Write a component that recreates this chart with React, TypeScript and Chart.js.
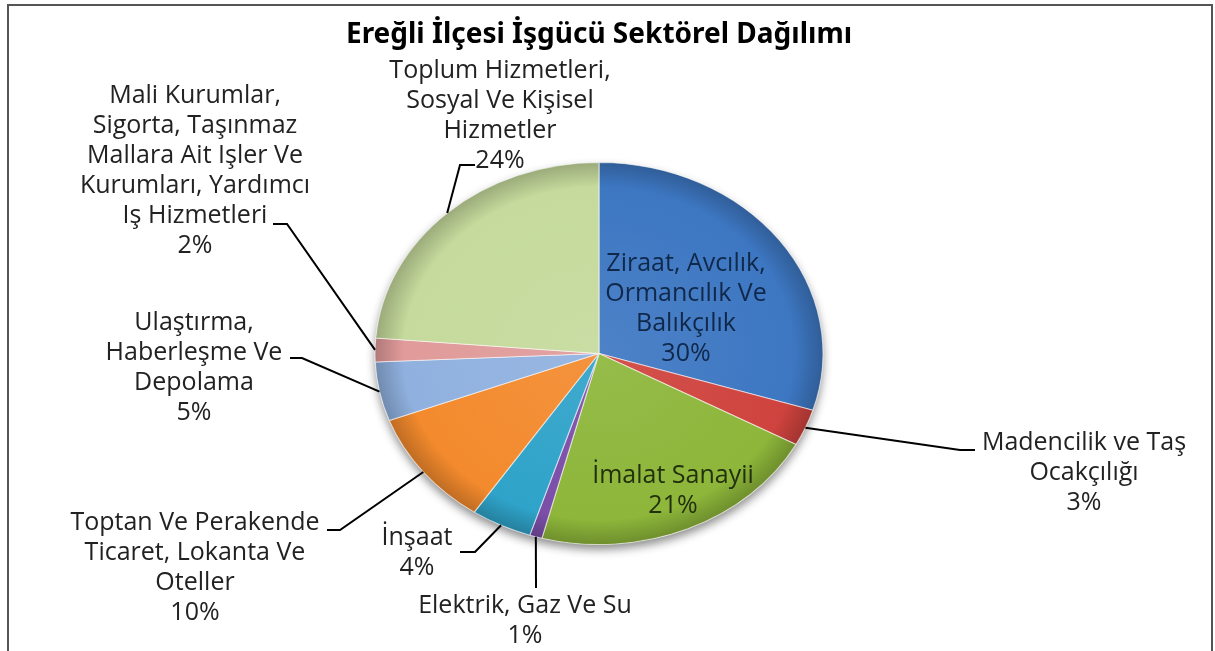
import { useEffect, useRef } from "react";
import { Chart, registerables } from "chart.js";

Chart.register(...registerables);

// ---------- data ----------
const chartTitle = "Ereğli İlçesi İşgücü Sektörel Dağılımı";
const categories: string[][] = [
  ["Ziraat, Avcılık,", "Ormancılık Ve", "Balıkçılık"],
  ["Madencilik ve Taş", "Ocakçılığı"],
  ["İmalat Sanayii"],
  ["Elektrik, Gaz Ve Su"],
  ["İnşaat"],
  ["Toptan Ve Perakende", "Ticaret, Lokanta Ve", "Oteller"],
  ["Ulaştırma,", "Haberleşme Ve", "Depolama"],
  ["Mali Kurumlar,", "Sigorta, Taşınmaz", "Mallara Ait Işler Ve", "Kurumları, Yardımcı", "Iş Hizmetleri"],
  ["Toplum Hizmetleri,", "Sosyal Ve Kişisel", "Hizmetler"],
];
const values = [29.8, 3.1, 21.2, 0.9, 4.4, 9.9, 5.0, 2.0, 23.7];
const sliceColors = ["#3d77c2", "#cf433e", "#8db63a", "#7b4ea8", "#2fa3c9", "#f38a2d", "#90b1df", "#e09b9a", "#c5da9c"];

// ---------- layout / style ----------
const SEMI_X = 224; // horizontal semi-axis of the (stretched) pie
const LABEL_FONT = "25px 'Open Sans'";
const LINE_H = 30;
type Lay = { x: number; y: number; color: string; leader: number[][] };
const labelLayout: Lay[] = [
  { x: 686, y: 262, color: "#10284a", leader: [] },
  { x: 1084, y: 441, color: "#222", leader: [[975, 450], [960, 450]] },
  { x: 673, y: 474, color: "#22300c", leader: [] },
  { x: 525, y: 604, color: "#222", leader: [[536, 588]] },
  { x: 417, y: 536, color: "#222", leader: [[460, 552], [475, 552]] },
  { x: 195, y: 521, color: "#222", leader: [[327, 530], [340, 530]] },
  { x: 194, y: 321, color: "#222", leader: [[290, 358], [302, 358]] },
  { x: 195, y: 94, color: "#222", leader: [[273, 224], [287, 224]] },
  { x: 500, y: 69, color: "#222", leader: [[475, 165], [460, 165]] },
];

function mix(hex: string, target: number, amt: number) {
  const n = parseInt(hex.slice(1), 16);
  const ch = [(n >> 16) & 255, (n >> 8) & 255, n & 255].map((c) => Math.round(c + (target - c) * amt));
  return `rgb(${ch[0]},${ch[1]},${ch[2]})`;
}

const stretchPlugin = {
  id: "stretchPie",
  beforeDatasetsDraw(chart: any) {
    const arc = chart.getDatasetMeta(0).data[0];
    if (!arc) return;
    const { x, y, outerRadius } = arc;
    const sx = SEMI_X / outerRadius;
    const ctx = chart.ctx;
    // soft shadow under the pie
    ctx.save();
    ctx.beginPath();
    ctx.ellipse(x, y, SEMI_X, outerRadius, 0, 0, Math.PI * 2);
    ctx.shadowColor = "rgba(0,0,0,0.45)";
    ctx.shadowBlur = 10;
    ctx.shadowOffsetY = 5;
    ctx.fillStyle = "#ffffff";
    ctx.fill();
    ctx.restore();
    ctx.save();
    ctx.translate(x, y);
    ctx.scale(sx, 1);
    ctx.translate(-x, -y);
  },
  afterDatasetsDraw(chart: any) {
    const arc = chart.getDatasetMeta(0).data[0];
    if (!arc) return;
    chart.ctx.restore();
  },
  afterDraw(chart: any) {
    const meta = chart.getDatasetMeta(0);
    const ctx = chart.ctx;
    const total = values.reduce((a, b) => a + b, 0);
    meta.data.forEach((arc: any, i: number) => {
      const lay = labelLayout[i];
      const mid = (arc.startAngle + arc.endAngle) / 2;
      const b = arc.outerRadius;
      const ex = arc.x + SEMI_X * Math.cos(mid);
      const ey = arc.y + b * Math.sin(mid);
      if (lay.leader.length) {
        ctx.save();
        ctx.strokeStyle = "#000";
        ctx.lineWidth = 2;
        ctx.beginPath();
        ctx.moveTo(lay.leader[0][0], lay.leader[0][1]);
        for (let k = 1; k < lay.leader.length; k++) ctx.lineTo(lay.leader[k][0], lay.leader[k][1]);
        ctx.lineTo(ex, ey);
        ctx.stroke();
        ctx.restore();
      }
      const lines = [...categories[i], Math.round((values[i] / total) * 100) + "%"];
      ctx.save();
      ctx.font = LABEL_FONT;
      ctx.fillStyle = lay.color;
      ctx.textAlign = "center";
      ctx.textBaseline = "middle";
      lines.forEach((t, k) => ctx.fillText(t, lay.x, lay.y + 2 + k * LINE_H));
      ctx.restore();
    });
  },
};

export default function App() {
  const ref = useRef<HTMLCanvasElement>(null);
  useEffect(() => {
    if (!ref.current) return;
    const chart = new Chart(ref.current, {
      type: "pie",
      data: {
        labels: categories,
        datasets: [
          {
            data: values,
            clip: false as any,
            backgroundColor: (c: any) => {
              const base = sliceColors[c.dataIndex];
              const area = c.chart.chartArea;
              if (!area) return base;
              const cx = (area.left + area.right) / 2;
              const cy = (area.top + area.bottom) / 2;
              const r = Math.min(area.width, area.height) / 2;
              const g = c.chart.ctx.createRadialGradient(cx, cy, 0, cx, cy, r);
              g.addColorStop(0, mix(base, 255, 0.08));
              g.addColorStop(0.87, base);
              g.addColorStop(1, mix(base, 0, 0.22));
              return g;
            },
            borderColor: "rgba(255,255,255,0.55)",
            borderWidth: 1,
          },
        ],
      },
      options: {
        responsive: false,
        maintainAspectRatio: false,
        devicePixelRatio: 1,
        animation: false,
        layout: { padding: { left: 60, right: 77, top: 0, bottom: 106 } },
        plugins: {
          legend: { display: false },
          tooltip: { enabled: false },
          title: {
            display: true,
            text: chartTitle,
            color: "#000",
            font: { family: "'Noto Sans'", size: 28, weight: "bold", lineHeight: 1.2 },
            padding: { top: 18.5, bottom: 109.9 },
          },
        },
      },
      plugins: [stretchPlugin],
    });
    return () => chart.destroy();
  }, []);
  return (
    <div style={{ position: "fixed", left: 0, top: 0, width: 1215, height: 651, background: "#fff", overflow: "hidden" }}>
      <canvas ref={ref} width={1215} height={651} style={{ position: "absolute", left: 0, top: 0, width: 1215, height: 651 }} />
      <div
        style={{
          position: "absolute",
          left: 7,
          top: 4,
          width: 1206,
          height: 700,
          border: "2px solid #555",
          boxSizing: "border-box",
          pointerEvents: "none",
        }}
      />
    </div>
  );
}
